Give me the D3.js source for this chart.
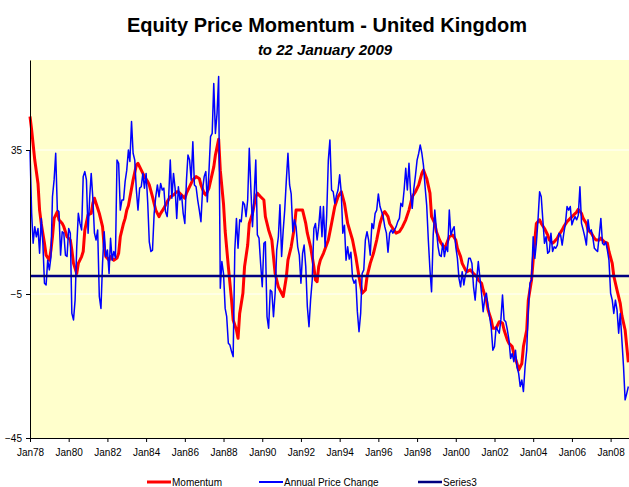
<!DOCTYPE html>
<html>
<head>
<meta charset="utf-8">
<script src="https://cdn.jsdelivr.net/npm/d3@7"></script>
<style>
  body { margin: 0; background: #fff; }
  text { font-family: "Liberation Sans", Arial, sans-serif; }
</style>
</head>
<body>
<div id="chart"></div>
<script>
// monthly annual price change, starting Jan 1978
var annualPriceChange = [
  35, 17.4, 9.1, 13.7, 10.9, 13.2, 6.3, 16.0, 9.1, -2.0, -2.5, 4.4, 1.7, 5.4, 22.0, 26.7, 34.1, 18.3, 17.9, 5.8,
  12.3, 11.9, 5.8, 5.4, 13.2, 11.9, -10.4, -12.2, -6.7, 8.1, 17.4, 14.6, 12.8, 27.6, 29.0, 26.7, 11.9, 22.0, 28.5, 21.6,
  11.9, 10.0, 12.8, -5.7, -9.0, 3.5, 12.3, 5.4, 7.2, 0.7, 10.5, 4.4, 6.8, 5.0, 32.2, 31.3, 18.3, 21.1, 21.1, 26.2,
  29.4, 35.0, 31.8, 42.9, 34.1, 32.2, 23.9, 18.3, 24.4, 24.8, 28.5, 24.4, 28.5, 20.2, 9.5, 6.8, 7.2, 17.4, 22.0, 25.3,
  22.0, 25.7, 23.9, 24.4, 17.9, 16.5, 21.6, 32.2, 21.6, 28.5, 24.4, 16.0, 24.8, 21.1, 22.5, 17.4, 14.6, 26.7, 33.6, 32.2,
  26.7, 37.3, 25.3, 24.8, 21.1, 18.3, 15.1, 23.9, 27.6, 29.0, 20.6, 29.0, 38.7, 39.6, 53.5, 39.6, 45.2, 55.4,
  -3.4, 4.0, 0.7, -9.0, -11.3, -18.7, -19.2, -21.0, -22.4, 7.2, 16.0, 7.7, 15.6, 15.1, 20.6, 19.8, 16.5, 21.1, 35.5, 23.9,
  13.7, 22.4, 32.2, 11.4, 10.5, 3.5, -3.0, 9.1, 9.5, -11.3, -14.5, -3.9, -4.4, -11.3, -4.8, 7.2, 10.9, 19.8, 5.4, 12.8,
  18.3, 26.7, 34.1, 25.3, 22.8, 12.3, 15.6, 13.7, 8.1, 5.8, -2.0, 6.3, 8.6, 2.6, -8.5, -14.1, -6.7, -1.1, 13.2, 14.6,
  10.0, 13.7, 19.3, 10.9, 19.3, 8.1, 16.9, 32.2, 37.8, 23.9, 23.4, 20.2, 22.4, 23.9, 28.1, 23.0, 11.9, 14.1, 4.4, 8.1,
  4.7, 6.6, -0.6, -2.0, -1.1, -9.9, -15.5, -10.4, 0.7, 1.7, 10.0, 12.3, 10.0, 5.8, 14.6, 13.2, 17.4, 18.3, 22.8, 19.3,
  18.0, 16.5, 13.7, 11.9, 6.6, 11.9, 12.8, 11.9, 12.8, 13.7, 15.1, 16.0, 20.2, 19.3, 23.9, 29.9, 23.9, 31.3, 23.0, 18.8,
  24.3, 27.9, 32.2, 34.1,
  36.4, 34.1, 30.8, 24.8, 19.7, 10.0, 1.7, -4.4, 11.4, 18.3, 12.8, 8.1, 5.8, 5.4, 9.1, 5.4, 8.1, 6.8, 18.3, 11.4,
  12.8, 13.7, 8.1, 4.9, -0.6, -3.0, 1.2, -2.5, 0.3, 1.7, 4.9, 4.9, 3.5, -3.0, -6.7, -0.6, 4.0, -0.6, -4.8, -9.9,
  -6.2, -4.8, -8.5, -11.3, -14.5, -20.6, -19.6, -14.1, -15.0, -15.9, -12.2, -5.3, -12.2, -12.7, -15.0, -17.8, -22.9, -21.5, -23.8, -20.6,
  -25.2, -27.0, -30.7, -28.9, -32.1, -25.2, -20.6, -9.4, -2.0, -1.1, 10.9, 4.9, 9.1, 15.6, 23.4, 22.0, 15.6, 9.1, 10.9, 6.3,
  6.8, 11.9, 6.8, 8.1, 7.7, 8.6, 11.9, 11.4, 8.6, 11.9, 14.6, 19.3, 18.3, 19.3, 14.2, 15.6, 16.5, 15.6, 16.9, 24.8,
  14.6, 12.8, 10.9, 8.6, 15.6, 12.3, 12.8, 10.5, 7.7, 7.2, 6.8, 11.4, 16.0, 9.1, 8.6, 9.5, 7.2, 4.4, -4.8, -6.7,
  -10.4, -6.7, -9.4, -15.9, -10.4, -17.8, -25.2, -34.4, -32.6, -30.7
];

// momentum line, read at month offsets from Jan 1978
var momentumMonth = [
  0, 1, 3, 5, 6, 7, 9, 10, 12, 13, 14, 15, 17, 18, 20, 21, 23, 25, 26, 27, 29, 30, 32, 33, 34, 36, 38, 39, 40, 42,
  43, 45, 46, 47, 49, 50, 52, 54, 55, 56, 58, 59, 60, 61, 64, 66, 67, 70, 71, 73, 74, 76, 78, 80, 81, 83, 85, 87, 89, 91,
  92, 94, 96, 97, 99, 101, 103, 105, 106, 108, 109, 111, 114, 115, 117, 118, 120, 121, 123, 125, 126, 128, 129, 130, 132, 133, 135, 136, 138, 140,
  141, 143, 145, 146, 148, 150, 152, 154, 157, 159, 160, 162, 164, 165, 169, 171, 172, 174, 176, 177, 178, 179, 180, 182, 185, 187, 189, 191, 193, 195,
  197, 200, 202, 204, 206, 208, 209, 211, 213, 215, 217, 219, 220, 222, 223, 225, 227, 229, 231, 233, 235, 237, 239, 241, 243, 244, 246, 248, 249, 251,
  252, 254, 255, 257, 258, 260, 262, 264, 265, 267, 268, 270, 271, 273, 275, 277, 278, 280, 281, 283, 284, 286, 287, 289, 291, 293, 294, 296, 297, 299,
  300, 302, 303, 305, 306, 308, 309, 311, 312, 313, 314, 316, 317, 319, 321, 322, 324, 325, 327, 328, 330, 331, 333, 335, 337, 339, 340, 342, 343, 345,
  346, 348, 350, 351, 353, 354, 356, 358, 359, 361, 362, 364, 366, 367, 369, 370, 371
];
var momentumValue = [
  44.3, 40.6, 32.2, 25.7, 18.3, 14.6, 9.1, 5.8, 4.4, 7.2, 10.9, 16.0, 17.9, 15.6, 14.6, 13.7, 10.9, 10.0, 7.2, 3.5, 0.7, 3.5, 5.4, 6.8, 12.8, 17.0, 17.4, 20.2, 21.6, 18.8,
  17.4, 13.7, 8.1, 5.4, 4.4, 5.4, 4.4, 5.0, 6.3, 10.9, 14.6, 16.0, 18.3, 19.5, 26.7, 30.8, 31.3, 28.5, 27.6, 26.2, 25.3, 22.0, 18.3, 16.5, 17.4, 18.8, 20.6, 22.0, 22.5, 23.4,
  23.4, 22.5, 21.6, 23.0, 24.8, 26.7, 27.6, 27.1, 25.3, 23.0, 22.5, 24.4, 30.3, 33.6, 38.0, 29.4, 20.0, 12.5, 2.6, -6.7, -12.2, -15.0, -17.3, -10.4, -4.8, 2.6, 8.6, 14.6, 17.4, 22.0,
  23.0, 22.0, 21.1, 16.5, 12.8, 10.0, 0.7, -3.0, -5.7, -0.2, 4.4, 8.1, 13.7, 18.3, 18.3, 14.6, 11.9, 8.1, 2.6, -1.1, -1.6, 2.6, 4.4, 6.3, 10.0, 14.6, 19.3, 22.0, 23.4, 20.2,
  14.6, 10.0, 5.4, -0.2, -4.8, -3.9, -0.2, 3.5, 6.3, 10.0, 14.6, 17.4, 17.9, 16.5, 14.6, 13.2, 11.9, 12.3, 13.7, 15.6, 18.3, 22.0, 23.4, 25.3, 28.5, 29.4, 27.1, 23.0, 16.5, 14.6,
  12.3, 10.0, 9.1, 7.7, 8.6, 10.9, 11.4, 10.0, 7.7, 5.4, 3.5, 1.7, 1.2, 1.7, 0.7, -0.2, -1.1, -2.0, -3.9, -6.7, -9.4, -12.2, -14.5, -14.5, -12.7, -13.1, -15.0, -17.8, -18.7, -19.6,
  -21.5, -24.3, -26.1, -24.3, -19.6, -15.0, -6.7, -1.1, 4.4, 10.0, 14.6, 15.6, 14.6, 13.2, 11.4, 10.0, 9.1, 9.5, 10.5, 11.4, 12.8, 13.7, 15.1, 16.0, 16.9, 17.8, 18.5, 17.4, 16.0, 14.6,
  12.8, 11.9, 10.5, 10.0, 10.0, 10.5, 9.5, 9.1, 6.8, 3.5, 0.0, -3.9, -7.6, -11.0, -15.0, -19.6, -24.0
];

// third series: flat reference level
var series3Level = 0;

var yTicks = [-45, -5, 35];
var legendNames = ["Momentum", "Annual Price Change", "Series3"];
var legendColors = ["#ff0000", "#0000ff", "#000080"];

var W = 629, H = 487;
var plotLeft = 30, plotRight = 630, plotTop = 60, plotBottom = 438;
var startDate = new Date(1978, 0, 1), endDate = new Date(2009, 0, 1);

function monthDate(m) { return new Date(1978, m, 1); }

var svg = d3.select("#chart").append("svg")
    .attr("width", W)
    .attr("height", H);

var x = d3.scaleTime().domain([startDate, endDate]).range([plotLeft, plotRight]);
var y = d3.scaleLinear().domain([-45, 60]).range([plotBottom, plotTop]);

svg.append("text")
    .attr("x", 327).attr("y", 32)
    .attr("text-anchor", "middle")
    .style("font-size", "20px").style("font-weight", "bold")
    .text("Equity Price Momentum - United Kingdom");

svg.append("text")
    .attr("x", 325).attr("y", 55)
    .attr("text-anchor", "middle")
    .style("font-size", "15px").style("font-weight", "bold").style("font-style", "italic")
    .text("to 22 January 2009");

// plot background
svg.append("rect")
    .attr("x", plotLeft).attr("y", plotTop)
    .attr("width", plotRight - plotLeft).attr("height", plotBottom - plotTop)
    .attr("fill", "#ffffcc");

// gridlines
svg.append("g").selectAll("line")
    .data(yTicks.filter(function(d) { return d > -45; }))
    .enter().append("line")
    .attr("x1", plotLeft).attr("x2", plotRight)
    .attr("y1", function(d) { return y(d); })
    .attr("y2", function(d) { return y(d); })
    .attr("stroke", "#ffffff").attr("stroke-width", 1);

var momLine = d3.line()
    .x(function(d, i) { return x(monthDate(momentumMonth[i])); })
    .y(function(d) { return y(d); });

svg.append("path")
    .datum(momentumValue)
    .attr("d", momLine)
    .attr("fill", "none")
    .attr("stroke", legendColors[0])
    .attr("stroke-width", 3)
    .attr("stroke-linejoin", "round");

var apcLine = d3.line()
    .x(function(d, i) { return x(monthDate(i)); })
    .y(function(d) { return y(d); });

svg.append("path")
    .datum(annualPriceChange)
    .attr("d", apcLine)
    .attr("fill", "none")
    .attr("stroke", legendColors[1])
    .attr("stroke-width", 1.5)
    .attr("stroke-linejoin", "round");

svg.append("line")
    .attr("x1", x(startDate)).attr("x2", x(endDate))
    .attr("y1", y(series3Level)).attr("y2", y(series3Level))
    .attr("stroke", legendColors[2])
    .attr("stroke-width", 2.5);

// axes
var xAxis = d3.axisBottom(x)
    .ticks(d3.timeYear.every(2))
    .tickFormat(d3.timeFormat("%b%y"))
    .tickSizeInner(4).tickSizeOuter(0).tickPadding(7);

var gx = svg.append("g")
    .attr("transform", "translate(0," + plotBottom + ")")
    .call(xAxis);
gx.selectAll("text").style("font-size", "10px").attr("fill", "#000");
gx.selectAll("line, path").attr("stroke", "#000");

var yAxis = d3.axisLeft(y)
    .tickValues(yTicks)
    .tickSizeInner(4).tickSizeOuter(0).tickPadding(4);

var gy = svg.append("g")
    .attr("transform", "translate(" + plotLeft + ",0)")
    .call(yAxis);
gy.selectAll("text").style("font-size", "10px").attr("fill", "#000");
gy.selectAll("line, path").attr("stroke", "#000");

// legend
var legendX = [147, 259, 418];
var legendW = [3, 2, 2.5];
var lg = svg.append("g").selectAll("g")
    .data(legendNames)
    .enter().append("g")
    .attr("transform", function(d, i) { return "translate(" + legendX[i] + ",482)"; });

lg.append("line")
    .attr("x1", 0).attr("x2", 24)
    .attr("stroke", function(d, i) { return legendColors[i]; })
    .attr("stroke-width", function(d, i) { return legendW[i]; });

lg.append("text")
    .attr("x", 25).attr("y", 4)
    .style("font-size", "10px")
    .text(function(d) { return d; });
</script>
</body>
</html>
